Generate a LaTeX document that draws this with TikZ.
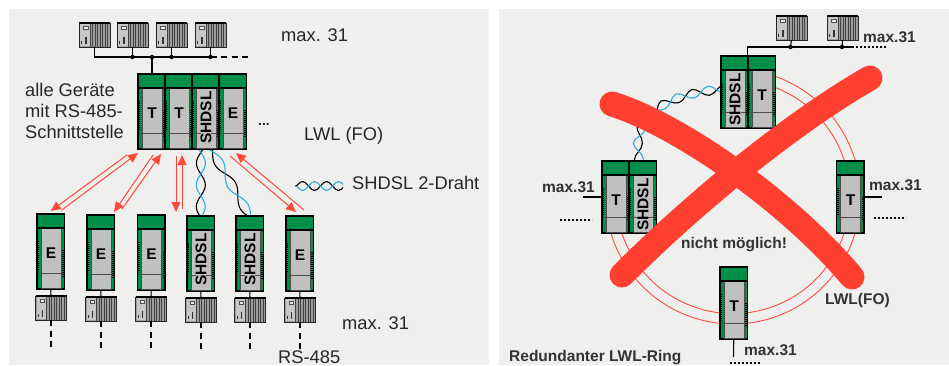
\documentclass[tikz,border=0pt]{standalone}
\usepackage{fontspec}
\setmainfont{Liberation Sans}
\usepackage{xcolor}
\usetikzlibrary{
  arrows.meta,
  backgrounds,
  decorations.pathmorphing
}
\definecolor{modgreen}{RGB}{0,143,74}
\definecolor{modgray}{RGB}{192,192,192}
\definecolor{panelbg}{RGB}{239,240,238}
\definecolor{alarmred}{RGB}{255,63,48}
\definecolor{linkred}{RGB}{255,74,58}
\definecolor{wirecyan}{RGB}{40,175,220}
\definecolor{textgray}{RGB}{50,50,50}

\def\modh{75}
\newcommand{\modul}[5][]{%
  \begin{scope}[shift={(#3,#4)}]
    \node[modbody, minimum height=\modh pt] (#2) at (13.75,\modh/2) {};
    \fill[modgray] (4,14) rectangle (24,\modh-0.5);
    \draw[black!70, line width=0.7pt] (4,14) rectangle (24,\modh-0.5);
    \draw[black!70, line width=0.9pt] (0.5,\modh-15.5) -- (27,\modh-15.5);
    \draw[black, line width=1.6pt, dash pattern=on 1.2pt off 0.8pt] (1.6,27) -- (1.6,\modh-18);
    \draw[black, line width=1.6pt, dash pattern=on 1.2pt off 0.8pt] (25.9,36) -- (25.9,\modh-12);
    \draw[black, line width=1.1pt] (0,14) -- (27.5,14);
    \node[modlabel, #1] (#2t) at (14,39.5) {#5};
  \end{scope}
}
\newcommand{\rack}[3]{%
  \begin{scope}[shift={(#2,#3)}]
    \node[rackbox] (#1) at (15.5,12) {};
    \fill[black!22] (1,1) rectangle (11,23);
    \foreach \s in {11,13.5,...,30} {
      \draw[black!75, line width=0.6pt] (\s,0.5) -- (\s,23.5);
    }
    \fill[black!8] (4.5,3) rectangle (9,6);
    \draw[black!70, line width=0.5pt] (4.5,3) rectangle (9,6);
    \fill[black!80] (6,14) rectangle (7.5,21);
    \fill[black!80] (2,18) rectangle (3,21);
    \draw[black, line width=1.2pt] (0,0) -- (31,0);
  \end{scope}
}

\begin{document}
\begin{tikzpicture}[
  x=1pt, y=-1pt,
  modbody/.style={rectangle, draw=black, fill=modgreen, line width=1.1pt, minimum width=27.5pt, inner sep=0pt, outer sep=0pt},
  modlabel/.style={font=\fontsize{15.5}{15.5}\selectfont\bfseries, text=black, inner sep=0pt},
  sdlabel/.style={yshift=-4pt, rotate=90, fill=modgray},
  rackbox/.style={rectangle, draw=black!85, fill=black!38, line width=0.8pt, minimum width=31pt, minimum height=24pt, inner sep=0pt, outer sep=0pt},
  busline/.style={draw=black, line width=1.1pt},
  busdot/.style={circle, fill=black, inner sep=0pt, minimum size=4.5pt},
  dashline/.style={draw=black, line width=1.1pt, dash pattern=on 6pt off 4.5pt},
  dotline/.style={draw=black, line width=1.3pt, dash pattern=on 2pt off 2pt},
  linkarrow/.style={draw=linkred, line width=1pt, fill=linkred, -{Triangle[length=10pt,width=9pt]}},
  ringline/.style={draw=linkred, line width=0.9pt},
  crossline/.style={draw=alarmred, line width=25pt, line cap=round},
  wirek/.style={draw=black, line width=1.1pt, decorate, decoration={snake, segment length=#1, amplitude=4.5pt}},
  wirec/.style={draw=wirecyan, line width=1.1pt, decorate, decoration={snake, segment length=#1, amplitude=4.5pt, mirror}},
  plain/.style={font=\fontsize{18.3}{21}\selectfont, text=black!85, inner sep=0pt},
  boldtxt/.style={font=\fontsize{15.5}{18}\selectfont\bfseries, text=textgray, inner sep=0pt}
]
  \useasboundingbox (0,0) rectangle (949,365);

  \rack{pa}{79}{23}
  \rack{pb}{117}{23}
  \rack{pc}{156}{23}
  \rack{pd}{195}{23}
  \node[busdot] (jb) at (132.5,57) {};
  \node[busdot] (jm) at (152,57) {};
  \node[busdot] (jc) at (171.5,57) {};
  \node[busdot] (jd) at (210.5,57) {};
  \coordinate (busend) at (251,57);
  \draw[busline] (pa.south) |- (jb.center) -- (jd.center);
  \draw[busline] (pb.south) -- (jb.center);
  \draw[busline] (pc.south) -- (jc.center);
  \draw[busline] (pd.south) -- (jd.center);
  \draw[dashline] (jd.center) -- (busend);

  \modul{ta}{138}{74}{T}
  \modul{tb}{165}{74}{T}
  \modul[sdlabel]{sa}{192}{74}{SHDSL}
  \modul{ea}{219}{74}{E}
  \draw[busline] (jm.center) -- (jm |- ta.north);

  \modul{eb}{37}{214}{E}
  \modul{ec}{87}{215}{E}
  \modul{ed}{137.5}{215}{E}
  \modul[sdlabel]{sb}{187}{216}{SHDSL}
  \modul[sdlabel]{sc}{236}{216}{SHDSL}
  \modul{ee}{286}{216}{E}

  \rack{qa}{35.5}{296}
  \rack{qb}{85.5}{297}
  \rack{qc}{135.5}{297}
  \rack{qd}{185.5}{298}
  \rack{qe}{234.5}{298}
  \rack{qf}{284.5}{298}
  \foreach \m/\p in {eb/qa, ec/qb, ed/qc, sb/qd, sc/qe, ee/qf} {
    \draw[busline] (\m.south) -- (\p.north);
    \coordinate (\p end) at ([yshift=-28pt]\p.south);
    \draw[dashline] (\p.south) -- (\p end);
  }

  \draw[linkarrow] ([shift={(11,-4)}]eb.north) -- ([shift={(-13.75,4)}]ta.south);
  \draw[linkarrow] ([shift={(-24.75,6)}]ta.south) -- ([shift={(0,-3)}]eb.north);
  \draw[linkarrow] ([shift={(21.25,-6)}]ec.north) -- ([shift={(9.25,5)}]ta.south);
  \draw[linkarrow] ([shift={(1.25,6)}]ta.south) -- ([shift={(13.25,-3)}]ec.north);
  \draw[linkarrow] ([shift={(-2.75,7)}]tb.south) -- ([shift={(24.75,-3)}]ed.north);
  \draw[linkarrow] ([shift={(30.75,-6)}]ed.north) -- ([shift={(3.25,6)}]tb.south);
  \draw[linkarrow] ([shift={(4.25,-6)}]ee.north) -- ([shift={(3.25,4)}]ea.south);
  \draw[linkarrow] ([shift={(-2.75,7)}]ea.south) -- ([shift={(-3.75,-4)}]ee.north);

  \coordinate (twa) at (295,186);
  \coordinate (twb) at (343,186);
  \begin{scope}
    \clip (295,176) rectangle (343,196);
    \draw[wirek=24pt] (twa) -- ++(80,0);
    \draw[wirec=24pt] (twa) -- ++(80,0);
  \end{scope}

  \node[plain, anchor=west, align=left] (geraete) at (25,111) {alle Geräte\\mit RS-485-\\Schnittstelle};
  \node[plain, anchor=base west] (maxa) at (281,41) {max. 31};
  \node[plain, anchor=base west, font=\fontsize{14}{14}\selectfont\bfseries] (more) at (258,125) {...};
  \node[plain, anchor=base west] (lwla) at (304,140) {LWL (FO)};
  \node[plain, anchor=base west] (draht) at (352,189) {SHDSL 2-Draht};
  \node[plain, anchor=base west] (maxb) at (342,329) {max. 31};
  \node[plain, anchor=base west] (rs) at (278,363) {RS-485};

  \coordinate (ring) at (733,196.6);
  \draw[ringline] ([shift={(-163:127.4pt)}]ring) arc[start angle=-163, end angle=71, radius=127.4pt];
  \draw[ringline] ([shift={(-163:117pt)}]ring) arc[start angle=-163, end angle=71, radius=117pt];

  \rack{ra}{776}{16}
  \rack{rb}{827}{16}
  \node[busdot] (ka) at (790.5,47) {};
  \node[busdot] (kb) at (842,47) {};
  \coordinate (kend) at (852,47);
  \coordinate (kdot) at (887,47);
  \draw[busline] (ra.south) -- (ka.center);
  \draw[busline] (rb.south) -- (kb.center);

  \def\modh{72}
  \modul[sdlabel]{sd}{721}{56}{SHDSL}
  \modul{tc}{748}{56}{T}
  \modul{td}{602}{161}{T}
  \modul[sdlabel]{se}{629}{161}{SHDSL}
  \modul{te}{836.5}{161}{T}
  \modul{tf}{720}{267}{T}

  \draw[busline] ([xshift=-0.5pt]tc.north west) |- (ka.center) -- (kend);
  \draw[dotline] (kend) -- (kdot);

  \coordinate (stubd) at (583,197);
  \coordinate (dotda) at (560,220);
  \coordinate (dotdb) at (592,220);
  \draw[busline] (stubd) -- (stubd -| td.west);
  \draw[dotline] (dotda) -- (dotdb);
  \coordinate (stube) at (882,197);
  \coordinate (dotea) at (874,218);
  \coordinate (doteb) at (906,218);
  \draw[busline] (stube) -- (stube -| te.east);
  \draw[dotline] (dotea) -- (doteb);
  \coordinate (stubf) at (733.5,357);
  \coordinate (dotfa) at (730,363);
  \coordinate (dotfb) at (760,363);
  \draw[busline] (tf.south) -- (stubf);
  \draw[dotline] (dotfa) -- (dotfb);

  \begin{pgfonlayer}{background}
    \fill[panelbg] (9,9) rectangle (489,365);
    \fill[panelbg] (499,9) rectangle (949,365);
    \draw[wirek=43.4pt] ([shift={(-4.75,-21)}]sa.south) -- ([shift={(0,-1)}]sb.north) -- ++(0,60);
    \draw[wirec=43.4pt] ([shift={(-4.75,-21)}]sa.south) -- ([shift={(0,-1)}]sb.north) -- ++(0,60);
    \draw[wirek=50.7pt] ([shift={(-7.45,-22)}]sa.south) -- ([shift={(-0.75,-1)}]sc.north) -- ++(0,65);
    \draw[wirec=50.7pt] ([shift={(-7.45,-22)}]sa.south) -- ([shift={(-0.75,-1)}]sc.north) -- ++(0,65);
    \draw[wirek=32pt] ([shift={(-2,8)}]se.north) .. controls (632,125) and (660,96) .. ([shift={(40,3)}]sd.west);
    \draw[wirec=32pt] ([shift={(-2,8)}]se.north) .. controls (632,125) and (660,96) .. ([shift={(40,3)}]sd.west);
  \end{pgfonlayer}

  \coordinate (xaa) at (612,104);
  \coordinate (xab) at (852,277);
  \coordinate (xba) at (870,78);
  \coordinate (xbb) at (622,275);
  \draw[crossline] (xaa) .. controls (680,125) and (790,203) .. (xab);
  \draw[crossline] (xba) .. controls (800,118) and (703,194) .. (xbb);

  \node[boldtxt, anchor=base west] (maxc) at (863,42) {max.31};
  \node[boldtxt, anchor=base west] (maxd) at (542,192) {max.31};
  \node[boldtxt, anchor=base west] (maxe) at (869,190) {max.31};
  \node[boldtxt, anchor=base west] (maxf) at (744,355) {max.31};
  \node[boldtxt, anchor=base] (nicht) at (734,248) {nicht möglich!};
  \node[boldtxt, anchor=base west] (lwlb) at (825,304) {LWL(FO)};
  \node[boldtxt, anchor=base west] (ringname) at (509,361) {Redundanter LWL-Ring};
\end{tikzpicture}
\end{document}
